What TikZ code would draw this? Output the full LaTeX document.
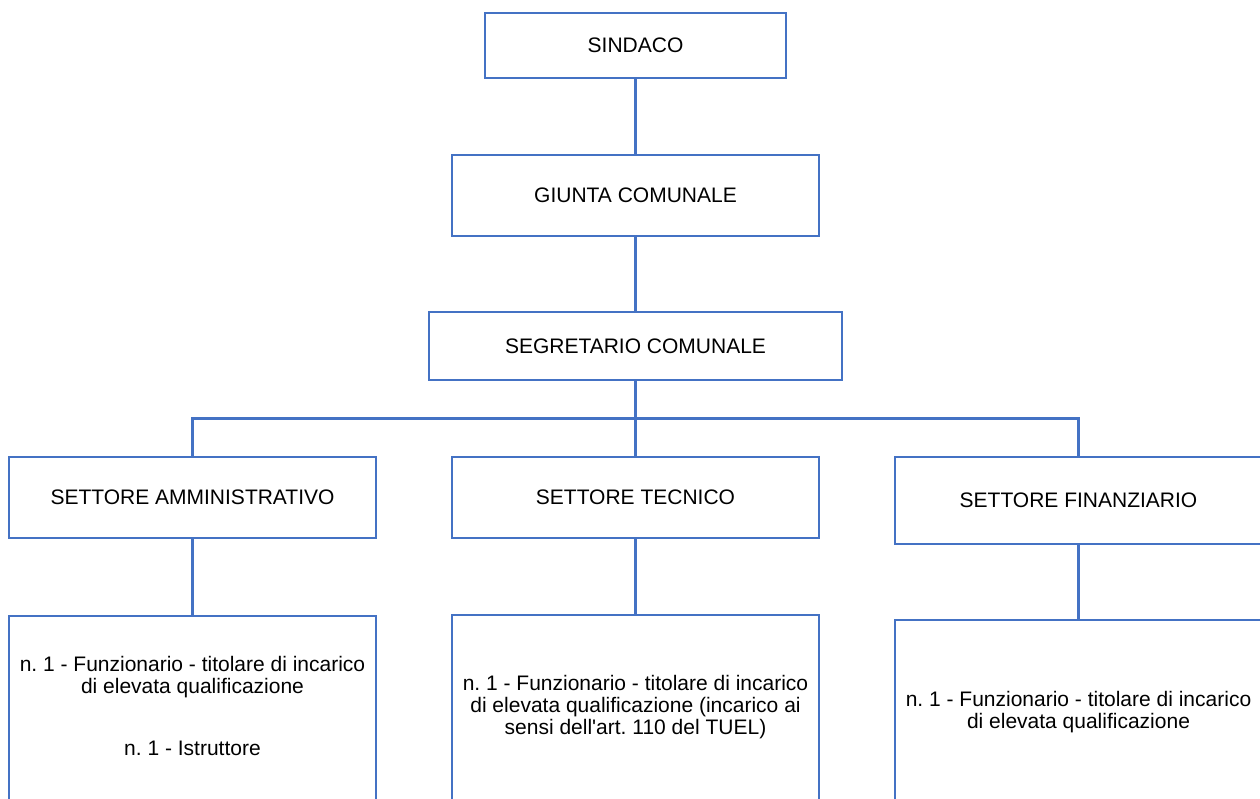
\documentclass[tikz,border=0pt]{standalone}
\usepackage{fontspec}
\setmainfont{Liberation Sans}
\frenchspacing
\definecolor{boxblue}{RGB}{68,114,196}
\tikzset{
  orgbox/.style={draw=boxblue, line width=2.8pt, inner sep=0pt, fill=white, font=\fontsize{21}{22}\selectfont},
  conn/.style={draw=boxblue, line width=2.8pt},
  txt/.style={align=center, inner sep=0pt, font=\fontsize{21}{22}\selectfont},
}
\begin{document}
\begin{tikzpicture}[x=1pt,y=-1pt]
\useasboundingbox[fill=white] (0,0) rectangle (1260,798);
\clip (0,0) rectangle (1260,798);
\coordinate (bus) at (635.5,418.5);
% boxes
\node[orgbox, minimum width=301pt, minimum height=65pt] (sind) at (635.5,45.5) {SINDACO};
\node[orgbox, minimum width=367pt, minimum height=81pt] (giun) at (635.5,195.5) {GIUNTA COMUNALE};
\node[orgbox, minimum width=413pt, minimum height=68pt] (segr) at (635.5,346) {SEGRETARIO COMUNALE};
\node[orgbox, minimum width=367pt, minimum height=81pt] (amm) at (192.5,497.5) {SETTORE AMMINISTRATIVO};
\node[orgbox, minimum width=367pt, minimum height=81pt] (tec) at (635.5,497.5) {SETTORE TECNICO};
\node[orgbox, minimum width=367pt, minimum height=87pt] (fin) at (1078.5,500.5) {SETTORE FINANZIARIO};
\node[orgbox, minimum width=367pt, minimum height=214pt] (ammb) at (192.5,723) {};
\node[orgbox, minimum width=367pt, minimum height=215pt] (tecb) at (635.5,722.5) {};
\node[orgbox, minimum width=367pt, minimum height=210pt] (finb) at (1078.5,725) {};
% texts of the bottom boxes
\node[txt] (ammt1) at (192.5,678.1) {\strut n. 1 - Funzionario - titolare di incarico\\\strut di elevata qualificazione};
\node[txt] (ammt2) at (192.5,750.6) {\strut n. 1 - Istruttore};
\node[txt] (tect) at (635.5,707.8) {\strut n. 1 - Funzionario - titolare di incarico\\\strut di elevata qualificazione (incarico ai\\\strut sensi dell\textquotesingle art. 110 del TUEL)};
\node[txt] (fint) at (1078.5,712.8) {\strut n. 1 - Funzionario - titolare di incarico\\\strut di elevata qualificazione};
% connectors
\draw[conn] (sind.south) -- (giun.north);
\draw[conn] (giun.south) -- (segr.north);
\draw[conn] (segr.south) -- (bus);
\draw[conn] (amm.north) |- (bus) -| (fin.north);
\draw[conn] (bus) -- (tec.north);
\draw[conn] (amm.south) -- (ammb.north);
\draw[conn] (tec.south) -- (tecb.north);
\draw[conn] (fin.south) -- (finb.north);
\end{tikzpicture}
\end{document}
